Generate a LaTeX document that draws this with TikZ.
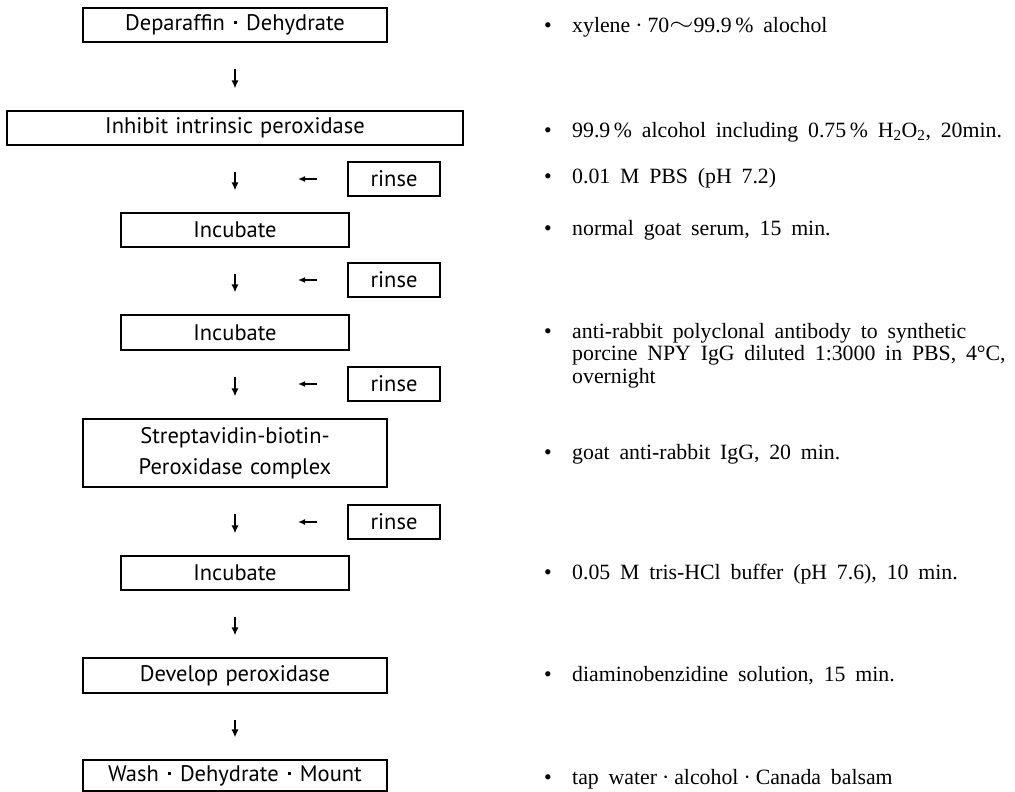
\documentclass[tikz,border=0pt]{standalone}
\usepackage{fontspec}
\setmainfont{Liberation Serif}
\newfontfamily\boxfont{PT Sans}
\usetikzlibrary{arrows.meta}
\newcommand\wsp{\spaceskip=0.32em plus 0.1em\relax}
\newcommand\nsp{\spaceskip=0.45em plus 0.1em\relax}
\newcommand\sqdot{\hspace{9pt}\raisebox{0.28em}{\rule{3.2pt}{3.2pt}}\hspace{9pt}}
\newcommand\mdot{\hspace{5pt}·\hspace{5pt}}
\begin{document}
\begin{tikzpicture}[x=1pt,y=-1pt,
  box/.style={draw, line width=1.1pt, inner sep=0pt, align=center,
    font=\boxfont\fontsize{22.5}{31}\selectfont, execute at begin node=\wsp},
  wide/.style={box, minimum width=304pt, minimum height=34pt},
  mid/.style={box, minimum width=228pt, minimum height=34pt},
  rinsebox/.style={box, minimum width=92pt, minimum height=34pt},
  flow/.style={-{Latex[length=8pt,width=7pt]}, line width=1.5pt, shorten <=26pt, shorten >=22pt},
  side/.style={-{Latex[length=7pt,width=6pt]}, line width=1.4pt, shorten <=30pt, shorten >=63pt},
  note/.style={anchor=base west, inner sep=0pt,
    font=\fontsize{21.8}{22.5}\selectfont, execute at begin node=\nsp},
  bullet/.style={anchor=base, inner sep=0pt, font=\fontsize{21.8}{22.5}\selectfont}
]
\useasboundingbox (0,0) rectangle (1015,792);

% main column
\node[wide] (b1) at (235,25) {Deparaffin\sqdot Dehydrate};
\node[box, minimum width=456pt, minimum height=34pt] (b2) at (235,128) {Inhibit intrinsic peroxidase};
\node[mid] (i1) at (235,230) {Incubate};
\node[mid, minimum height=35pt] (i2) at (235,332.5) {Incubate};
\node[wide, minimum height=68pt] (s1) at (235,453) {Streptavidin-biotin-\\Peroxidase complex};
\node[mid] (i3) at (235,573) {Incubate};
\node[wide, minimum height=35pt] (d1) at (235,675.5) {Develop peroxidase};
\node[wide, minimum height=31pt] (w1) at (235,775.5) {Wash\sqdot Dehydrate\sqdot Mount};

% rinse boxes
\node[rinsebox] (r1) at (394,179) {rinse};
\node[rinsebox] (r2) at (394,280) {rinse};
\node[rinsebox] (r3) at (394,384) {rinse};
\node[rinsebox] (r4) at (394,522) {rinse};

% down arrows
\draw[flow] (b1.south) -- (b2.north);
\draw[flow] (b2.south) -- (i1.north);
\draw[flow] (i1.south) -- (i2.north);
\draw[flow] (i2.south) -- (s1.north);
\draw[flow] (s1.south) -- (i3.north);
\draw[flow] (i3.south) -- (d1.north);
\draw[flow] (d1.south) -- (w1.north);

% side arrows
\draw[side] (r1.west) -- (r1.west -| b2.south);
\draw[side] (r2.west) -- (r2.west -| b2.south);
\draw[side] (r3.west) -- (r3.west -| b2.south);
\draw[side] (r4.west) -- (r4.west -| b2.south);

% notes
\node[bullet] (n1b) at (548,33) {•};
\node[note] (n1) at (572,33) {xylene\mdot 70\raisebox{0.1em}{\scalebox{1.5}[1.1]{$\sim$}}99.9\,\% alochol};
\node[bullet] (n2b) at (548,137) {•};
\node[note] (n2) at (572,137) {99.9\,\% alcohol including 0.75\,\% H\textsubscript{2}O\textsubscript{2}, 20min.};
\node[bullet] (n3b) at (548,183) {•};
\node[note] (n3) at (572,183) {0.01 M PBS (pH 7.2)};
\node[bullet] (n4b) at (548,235) {•};
\node[note] (n4) at (572,235) {normal goat serum, 15 min.};
\node[bullet] (n5b) at (548,338) {•};
\node[note] (n5) at (572,338) {anti-rabbit polyclonal antibody to synthetic};
\node[note] (n5l2) at (572,360.5) {porcine NPY IgG diluted 1:3000 in PBS, 4\textdegree{}C,};
\node[note] (n5l3) at (572,383) {overnight};
\node[bullet] (n6b) at (548,459) {•};
\node[note] (n6) at (572,459) {goat anti-rabbit IgG, 20 min.};
\node[bullet] (n7b) at (548,579) {•};
\node[note] (n7) at (572,579) {0.05 M tris-HCl buffer (pH 7.6), 10 min.};
\node[bullet] (n8b) at (548,681) {•};
\node[note] (n8) at (572,681) {diaminobenzidine solution, 15 min.};
\node[bullet] (n9b) at (548,784) {•};
\node[note] (n9) at (572,784) {tap water\mdot alcohol\mdot Canada balsam};
\end{tikzpicture}
\end{document}
